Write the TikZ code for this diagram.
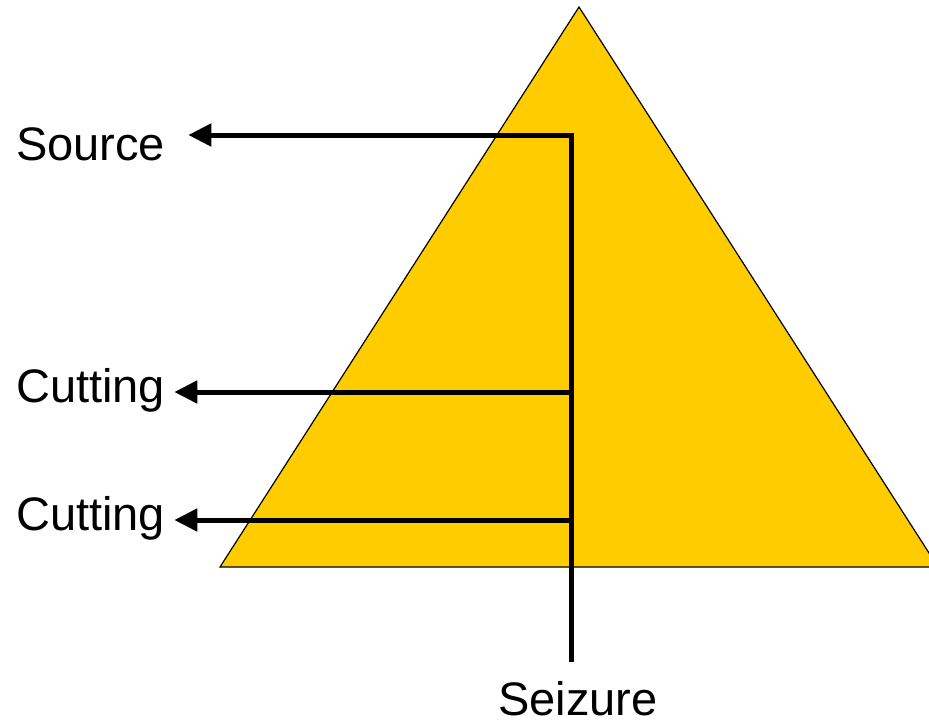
\documentclass[tikz,border=0pt]{standalone}
\usepackage{fontspec}
\setmainfont{Liberation Sans}
\usepackage{tikz}
\usetikzlibrary{arrows.meta, positioning, calc}
\definecolor{Gold}{HTML}{FFCC00}
\tikzset{
    pyr/.style={draw=black, line width=1.2pt, fill=Gold},
    lbl/.style={inner sep=0pt, font=\fontsize{47}{56}\selectfont},
    stem/.style={line width=5pt},
    branch/.style={line width=5pt, -{Triangle[length=23pt, width=22pt]}}
}

\begin{document}
\begin{tikzpicture}[x=1pt, y=-1pt]
    \useasboundingbox (0,0) rectangle (929,726);

    % Triangulo
    \coordinate (apex) at (579,7);
    \coordinate (bl) at (220,567);
    \coordinate (br) at (938,567);
    \begin{scope}
        \clip (0,0) rectangle (929,726);
        \draw[pyr] (apex) -- (bl) -- (br) -- cycle;
    \end{scope}

    % Etiquetas
    \node[lbl, anchor=base west] (src) at (16,160) {Source};
    \node[lbl, anchor=base west] (cut1) at (16,402) {Cutting};
    \node[lbl, anchor=base west] (cut2) at (16,530) {Cutting};
    \node[lbl, anchor=base] (sei) at (578,715) {Seizure};

    % Linea vertical y ramas
    \coordinate (top) at (571,135);
    \coordinate (j1) at (571,392);
    \coordinate (j2) at (571,520);
    \coordinate (bot) at (571,662);
    \draw[stem] (bot) -- ($(top)+(0,-2.5)$);
    \draw[branch] ($(top)+(2.5,0)$) -- ($(top -| src.east)+(23,0)$);
    \draw[branch] (j1) -- ($(j1 -| cut1.east)+(9,0)$);
    \draw[branch] (j2) -- ($(j2 -| cut2.east)+(9,0)$);
\end{tikzpicture}
\end{document}
